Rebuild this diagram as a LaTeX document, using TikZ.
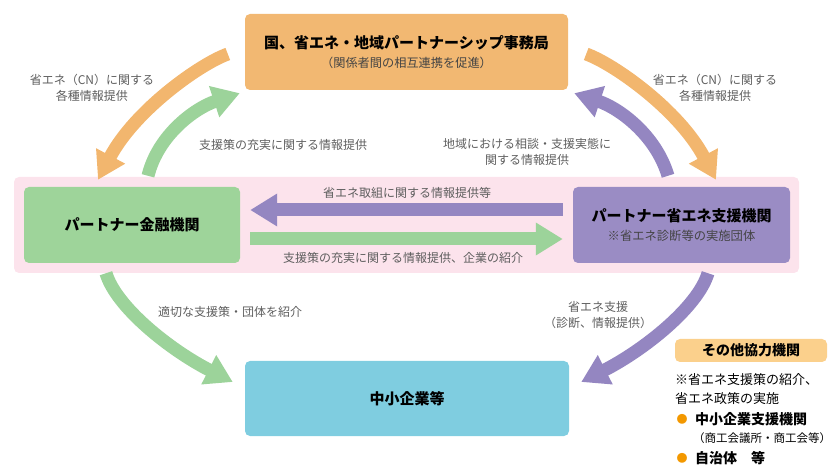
\documentclass[tikz,border=0pt]{standalone}
\usepackage{fontspec}
\setmainfont{Noto Sans CJK JP}
\usetikzlibrary{arrows.meta}
\definecolor{cOrangeBox}{HTML}{F2B872}
\definecolor{cOrangeArr}{HTML}{F2B66E}
\definecolor{cGreenBox}{HTML}{9ED49A}
\definecolor{cGreenArr}{HTML}{9CD39A}
\definecolor{cPurpleBox}{HTML}{9A8CC4}
\definecolor{cPurpleArr}{HTML}{9486C1}
\definecolor{cBlueBox}{HTML}{7FCDE0}
\definecolor{cPink}{HTML}{FCE3EC}
\definecolor{cOther}{HTML}{FBD08C}
\definecolor{cBullet}{HTML}{F39800}
\definecolor{cGray}{HTML}{5E5E5E}
\definecolor{cSub}{HTML}{444444}
\begin{document}
\begin{tikzpicture}[x=1pt,y=-1pt,
  box/.style={rounded corners=5pt, inner sep=0pt, align=center, text=black},
  lbl/.style={font=\fontsize{12}{16}\selectfont, text=cGray, align=center, inner sep=0pt},
  title/.style={font=\fontsize{15}{18}\selectfont\bfseries},
  bigarrow/.style={line width=13pt, -{Triangle[width=31pt,length=27pt]}},
  side/.style={font=\fontsize{13}{18.5}\selectfont, text=black, inner sep=0pt, anchor=west, align=left}
]
\useasboundingbox (0,0) rectangle (839,473);
% pink band
\node[fill=cPink, rounded corners=5pt, minimum width=785pt, minimum height=96pt, inner sep=0pt] (band) at (406.5,225) {};
% boxes
\node[box, fill=cOrangeBox, minimum width=323pt, minimum height=76pt, font=\fontsize{15}{18.5}\selectfont] (top) at (406.5,52)
  {{\bfseries 国、省エネ・地域パートナーシップ事務局}\\{\fontsize{12.2}{14}\selectfont\color{cSub}（関係者間の相互連携を促進）}};
\node[box, fill=cGreenBox, minimum width=216pt, minimum height=76pt, title] (fin) at (132,225) {パートナー金融機関};
\node[box, fill=cPurpleBox, minimum width=217pt, minimum height=76pt, font=\fontsize{15}{19}\selectfont] (sup) at (681.5,225)
  {{\bfseries パートナー省エネ支援機関}\\{\fontsize{12.3}{14}\selectfont\color{cSub}※省エネ診断等の実施団体}};
\node[box, fill=cBlueBox, minimum width=324pt, minimum height=75pt, title] (sme) at (407,398.5) {中小企業等};
% horizontal arrows
\draw[bigarrow, cPurpleArr] ([xshift=-10pt,yshift=15pt]sup.west) -- ([xshift=10pt,yshift=15pt]fin.east);
\draw[bigarrow, cGreenArr] ([xshift=10pt,yshift=-14pt]fin.east) -- ([xshift=-10pt,yshift=-14pt]sup.west);
% curved arrows
\draw[bigarrow, cOrangeArr] ([xshift=-17pt,yshift=-2pt]top.west) .. controls (200,64) and (135,110) .. ([xshift=-34pt,yshift=7pt]fin.north);
\draw[bigarrow, cGreenArr] ([xshift=16pt,yshift=11pt]fin.north) .. controls (158,135) and (195,108) .. ([xshift=-5pt,yshift=-3pt]top.south west);
\draw[bigarrow, cOrangeArr] ([xshift=18pt,yshift=-2pt]top.east) .. controls (614,64) and (679,110) .. ([xshift=34.5pt,yshift=7pt]sup.north);
\draw[bigarrow, cPurpleArr] ([xshift=-13.5pt,yshift=11pt]sup.north) .. controls (656,135) and (619,108) .. ([xshift=6pt,yshift=-3pt]top.south east);
\draw[bigarrow, cGreenArr] ([xshift=-26pt,yshift=-10pt]fin.south) .. controls (116,307) and (170,350) .. ([xshift=-12pt,yshift=16.5pt]sme.west);
\draw[bigarrow, cPurpleArr] ([xshift=26.5pt,yshift=-10pt]sup.south) .. controls (698,307) and (644,350) .. ([xshift=12pt,yshift=16.5pt]sme.east);
% labels
\node[lbl] (l1) at (92,88) {省エネ（CN）に関する\\各種情報提供};
\node[lbl] (l2) at (715,88) {省エネ（CN）に関する\\各種情報提供};
\node[lbl] (l3) at (283,145) {支援策の充実に関する情報提供};
\node[lbl] (l4) at (527,152) {地域における相談・支援実態に\\関する情報提供};
\node[lbl] (l5) at (407,193) {省エネ取組に関する情報提供等};
\node[lbl] (l6) at (403,258) {支援策の充実に関する情報提供、企業の紹介};
\node[lbl] (l7) at (230,312) {適切な支援策・団体を紹介};
\node[lbl] (l8) at (598,315) {省エネ支援\\（診断、情報提供）};
% other cooperating organisations
\node[fill=cOther, rounded corners=5pt, minimum width=152pt, minimum height=23pt, inner sep=0pt, font=\fontsize{14}{16}\selectfont\bfseries] (oth) at (751,350.5) {その他協力機関};
\node[side] (o1) at (675,389) {※省エネ支援策の紹介、\\省エネ政策の実施};
\node[side, font=\fontsize{14}{16}\selectfont\bfseries] (o2) at (695,419) {中小企業支援機関};
\node[side, font=\fontsize{11.5}{14}\selectfont] (o3) at (693,438) {（商工会議所・商工会等）};
\node[side, font=\fontsize{14}{16}\selectfont\bfseries] (o4) at (695,458) {自治体　等};
\node[text=cBullet, font=\fontsize{11}{12}\selectfont, inner sep=0pt] (b1) at (682,419) {●};
\node[text=cBullet, font=\fontsize{11}{12}\selectfont, inner sep=0pt] (b2) at (682,458) {●};
\end{tikzpicture}
\end{document}
